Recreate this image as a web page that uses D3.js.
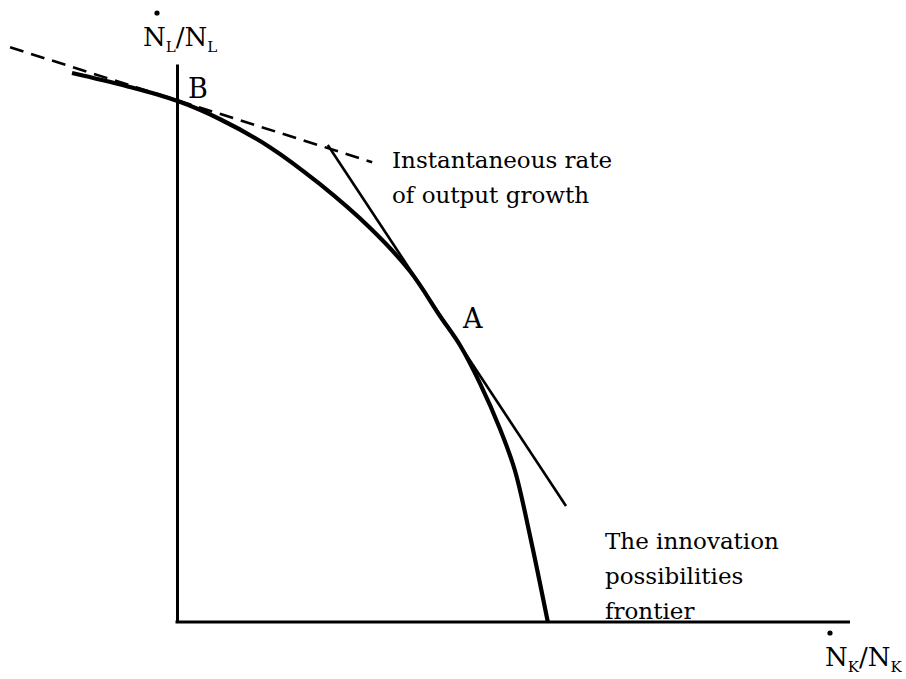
<!DOCTYPE html>
<html><head><meta charset="utf-8">
<script src="https://cdn.jsdelivr.net/npm/d3@7"></script>
<style>body{margin:0;background:#fff}svg{display:block}
svg text{font-family:"DejaVu Serif","Liberation Serif",serif;}</style>
</head><body><svg id="c" width="906" height="679"></svg>
<script>
// Innovation possibilities frontier (data units)
const frontierX = [-15.6, -7.7, 0.0, 6.4, 13.8, 21.2, 28.7, 34.6, 39.1, 42.1, 45.0, 48.0, 50.2, 52.5, 55.1];
const frontierY = [98.4, 96.1, 93.4, 90.1, 85.1, 78.5, 70.6, 62.9, 54.8, 49.5, 42.8, 34.6, 27.2, 15.2, 0.0];
// Tangent at A (solid) and at B (dashed: instantaneous rate of output growth)
const tangentAX = [22.4, 57.8];
const tangentAY = [85.5, 20.8];
const tangentBX = [-24.8, 29.0];
const tangentBY = [103.0, 82.4];
// Labelled points
const pointNames = ["A", "B"];
const pointX = [41.3, 0.0];
const pointY = [51.8, 93.2];
const annotation1 = ["Instantaneous rate", "of output growth"];
const annotation2 = ["The innovation", "possibilities", "frontier"];

const svg = d3.select("#c");
svg.append("rect").attr("width", 906).attr("height", 679).attr("fill", "#fff");

const x = d3.scaleLinear().domain([0, 100]).range([177, 850]);
const y = d3.scaleLinear().domain([0, 100]).range([622, 64]);

const FS = 23, SUB = 15;

// axes
const gx = svg.append("g").attr("transform", `translate(0,${y(0)})`)
  .call(d3.axisBottom(x).ticks(0).tickSizeOuter(0));
const gy = svg.append("g").attr("transform", `translate(${x(0)},0)`)
  .call(d3.axisLeft(y).ticks(0).tickSizeOuter(0));
[gx, gy].forEach(g => g.select(".domain").attr("stroke", "#000").attr("stroke-width", 3));
gx.select(".domain").attr("d", `M${x(0)-1.5},0H${x(100)}`);

const line = d3.line().x(d => x(d[0])).y(d => y(d[1]));

// dashed tangent at B
svg.append("path").datum(d3.zip(tangentBX, tangentBY))
  .attr("d", line).attr("fill", "none").attr("stroke", "#000")
  .attr("stroke-width", 2.6).attr("stroke-dasharray", "14,8");

// solid tangent at A
svg.append("path").datum(d3.zip(tangentAX, tangentAY))
  .attr("d", line).attr("fill", "none").attr("stroke", "#000")
  .attr("stroke-width", 2.6);

// frontier
svg.append("path").datum(d3.zip(frontierX, frontierY))
  .attr("d", line.curve(d3.curveCatmullRom.alpha(0.5)))
  .attr("fill", "none").attr("stroke", "#000").attr("stroke-width", 4.2)
  .attr("stroke-linecap", "butt");

// point labels
const offs = {A: [8, -5], B: [11, -4]};
svg.selectAll("text.pt").data(pointNames).join("text").attr("class", "pt")
  .attr("x", (d, i) => x(pointX[i]) + offs[d][0])
  .attr("y", (d, i) => y(pointY[i]) + offs[d][1])
  .attr("font-size", 27).text(d => d);

// annotations
const a1 = svg.append("text").attr("font-size", FS);
annotation1.forEach((t, i) => a1.append("tspan").attr("x", 392).attr("y", 168 + i * 35).text(t));
const a2 = svg.append("text").attr("font-size", FS);
annotation2.forEach((t, i) => a2.append("tspan").attr("x", 605).attr("y", 549 + i * 35).text(t));

// axis labels with dot over N
function dotLabel(lx, ly, sub, dotDx) {
  const t = svg.append("text").attr("x", lx).attr("y", ly).attr("font-size", 26);
  t.append("tspan").text("N");
  t.append("tspan").attr("font-size", SUB).attr("dy", 6).text(sub);
  t.append("tspan").attr("dy", -6).text("/N");
  t.append("tspan").attr("font-size", SUB).attr("dy", 6).text(sub);
  svg.append("circle").attr("cx", lx + dotDx).attr("cy", ly - 33).attr("r", 2.6).attr("fill", "#000");
}
dotLabel(143, 46, "L", 14);
dotLabel(825, 666, "K", 5);
</script>
</body></html>
